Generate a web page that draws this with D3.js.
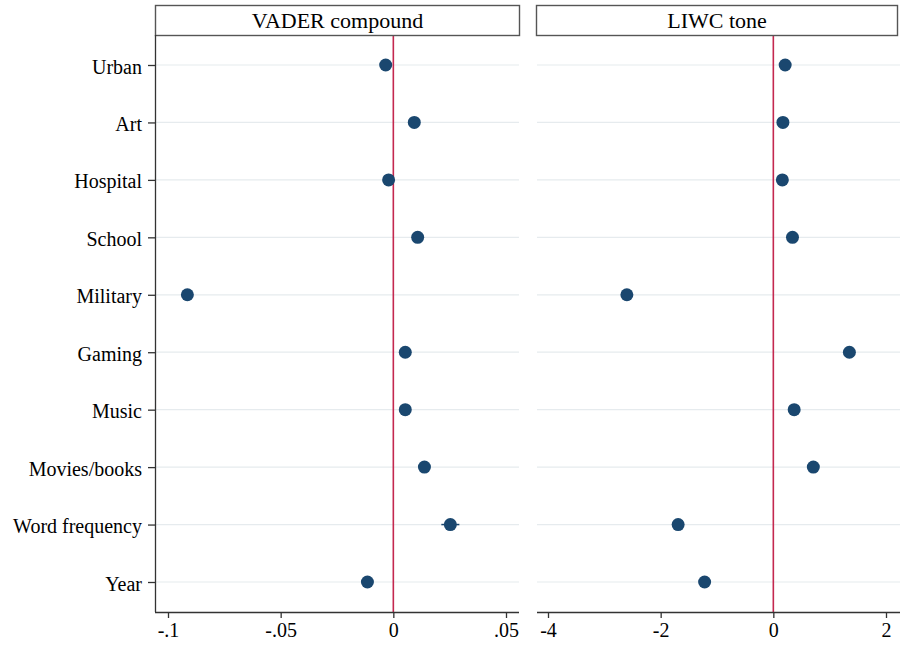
<!DOCTYPE html>
<html lang="en">
<head>
<meta charset="UTF-8">
<title>Coefficients</title>
<script src="https://d3js.org/d3.v7.min.js"></script>
<style>
  body { margin: 0; background: #fff; }
  text { font-family: "Liberation Serif", "DejaVu Serif", serif; fill: #000; }
</style>
</head>
<body>
<script>
// variables, top to bottom
var categories = ["Urban", "Art", "Hospital", "School", "Military", "Gaming",
                  "Music", "Movies/books", "Word frequency", "Year"];

// point estimates
var vaderValues = [-0.0034, 0.0093, -0.0021, 0.0108, -0.0914, 0.0053, 0.0053, 0.0138, 0.0253, -0.0115];
var vaderLow    = [-0.0040, 0.0088, -0.0026, 0.0103, -0.0920, 0.0048, 0.0048, 0.0133, 0.0213, -0.0120];
var vaderHigh   = [-0.0028, 0.0098, -0.0016, 0.0113, -0.0908, 0.0058, 0.0058, 0.0143, 0.0293, -0.0110];

var liwcValues = [0.21, 0.17, 0.16, 0.34, -2.60, 1.35, 0.37, 0.71, -1.69, -1.22];

var vaderTicks = [-0.1, -0.05, 0, 0.05];
var vaderTickLabels = ["-.1", "-.05", "0", ".05"];
var liwcTicks = [-4, -2, 0, 2];

var panelTitles = ["VADER compound", "LIWC tone"];

var width = 900, height = 649;
var svg = d3.select("body").append("svg")
    .attr("width", width)
    .attr("height", height);

var plotTop = 35, plotBottom = 612;
var y = d3.scalePoint()
    .domain(categories)
    .range([65, 582]);

var navy = "#1a476f";
var red = "#c4284f";
var gridColor = "#e6ebee";

function draw_panel(opt) {
    var x = d3.scaleLinear().domain(opt.domain).range(opt.range);
    var g = svg.append("g");

    // grid lines
    g.selectAll("line.grid")
        .data(categories)
        .enter().append("line")
        .attr("class", "grid")
        .attr("x1", opt.gridLeft).attr("x2", opt.gridRight)
        .attr("y1", function(d) { return y(d); })
        .attr("y2", function(d) { return y(d); })
        .attr("stroke", gridColor).attr("stroke-width", 1.2);

    // reference line at zero
    g.append("line")
        .attr("x1", x(0)).attr("x2", x(0))
        .attr("y1", plotTop).attr("y2", plotBottom)
        .attr("stroke", red).attr("stroke-width", 1.6);

    // header box
    g.append("rect")
        .attr("x", opt.left + 0.5).attr("y", 5.5)
        .attr("width", opt.right - opt.left - 1).attr("height", plotTop - 5)
        .attr("fill", "#fff").attr("stroke", "#555").attr("stroke-width", 1.4);
    g.append("text")
        .attr("x", (opt.left + opt.right) / 2).attr("y", 28)
        .attr("text-anchor", "middle")
        .style("font-size", "22px")
        .text(opt.title);

    // x axis
    var xAxis = d3.axisBottom(x)
        .tickValues(opt.ticks)
        .tickSize(6)
        .tickPadding(5)
        .tickFormat(function(d, i) { return opt.tickLabels[i]; });
    var ax = g.append("g")
        .attr("transform", "translate(0," + plotBottom + ")")
        .call(xAxis);
    ax.select(".domain")
        .attr("d", "M" + opt.gridLeft + ",0.5H" + opt.axisRight)
        .attr("stroke", "#333").attr("stroke-width", 1.3);
    ax.selectAll(".tick line").attr("stroke", "#333").attr("stroke-width", 1.3);
    ax.selectAll(".tick text")
        .style("font-family", "Liberation Serif, serif")
        .style("font-size", "20px")
        .attr("fill", "#000");

    // confidence intervals
    if (opt.low) {
        g.selectAll("line.ci")
            .data(categories)
            .enter().append("line")
            .attr("class", "ci")
            .attr("x1", function(d, i) { return x(opt.low[i]); })
            .attr("x2", function(d, i) { return x(opt.high[i]); })
            .attr("y1", function(d) { return y(d); })
            .attr("y2", function(d) { return y(d); })
            .attr("stroke", navy).attr("stroke-width", 1.5);
    }

    // points
    g.selectAll("circle")
        .data(categories)
        .enter().append("circle")
        .attr("cx", function(d, i) { return x(opt.values[i]); })
        .attr("cy", function(d) { return y(d); })
        .attr("r", 6.5)
        .attr("fill", navy);

    return x;
}

draw_panel({
    title: panelTitles[0],
    left: 155, right: 520,
    gridLeft: 155, gridRight: 519, axisRight: 519,
    domain: [-0.1, 0.05], range: [168, 506],
    ticks: vaderTicks, tickLabels: vaderTickLabels,
    values: vaderValues, low: vaderLow, high: vaderHigh
});

draw_panel({
    title: panelTitles[1],
    left: 536, right: 898,
    gridLeft: 537, gridRight: 900, axisRight: 900,
    domain: [-4, 2], range: [548, 886],
    ticks: liwcTicks, tickLabels: liwcTicks.map(String),
    values: liwcValues
});

// y axis of the left panel
var yAxis = d3.axisLeft(y).tickSize(7).tickPadding(6);
var yg = svg.append("g")
    .attr("transform", "translate(155,0)")
    .call(yAxis);
yg.select(".domain")
    .attr("d", "M0.5," + plotTop + "V" + plotBottom)
    .attr("stroke", "#333").attr("stroke-width", 1.3);
yg.selectAll(".tick line").attr("stroke", "#333").attr("stroke-width", 1.3);
yg.selectAll(".tick text")
    .style("font-family", "Liberation Serif, serif")
    .style("font-size", "20px")
    .attr("fill", "#000")
    .attr("dy", "0.4em");
</script>
</body>
</html>
